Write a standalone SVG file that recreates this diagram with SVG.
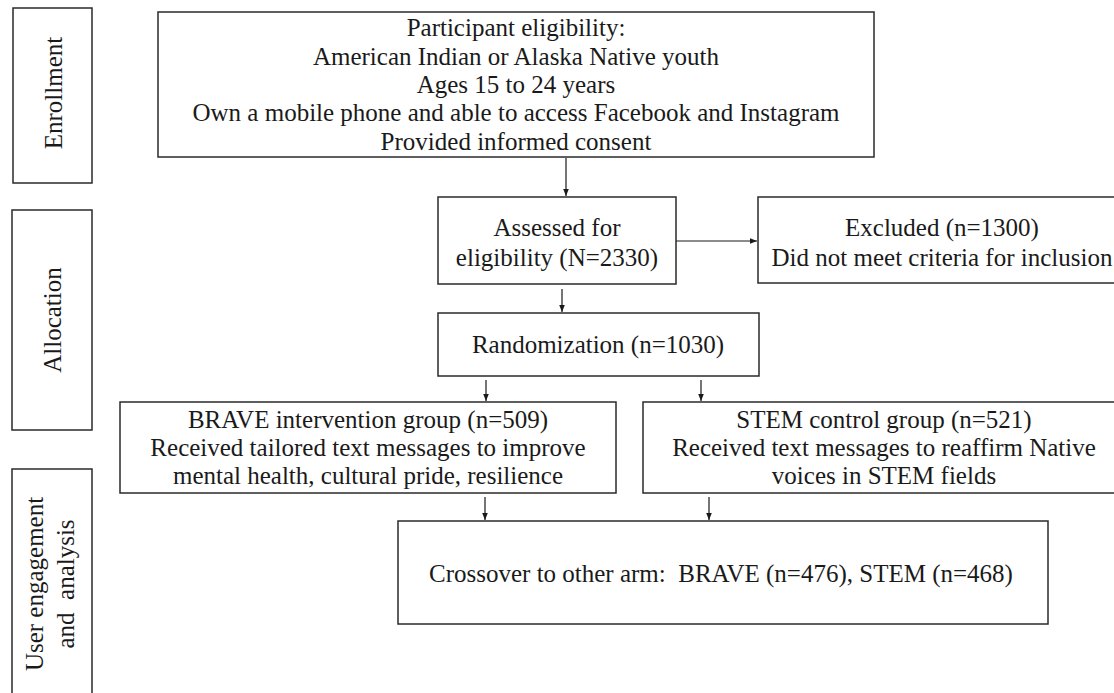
<svg xmlns="http://www.w3.org/2000/svg" width="1114" height="693" viewBox="0 0 1114 693">
<defs>
<style>
.box{fill:#fff;stroke:#2a2a2a;stroke-width:1.5}
.t{font-family:"Liberation Serif","Times New Roman",serif;font-size:25px;fill:#1a1a1a;text-anchor:middle}
.c{stroke:#1a1a1a;stroke-width:1.2;fill:none;marker-end:url(#ah)}
</style>
<marker id="ah" viewBox="0 0 8 8" refX="7.5" refY="4" markerWidth="8" markerHeight="8" markerUnits="userSpaceOnUse" orient="auto">
<path d="M0,1 L7.5,4 L0,7 z" fill="#1a1a1a"/>
</marker>
</defs>
<rect width="1114" height="693" fill="#fff"/>
<g id="stage-enrollment">
<rect class="box" x="13" y="8" width="79" height="175"/>
<text class="t" transform="translate(62,93) rotate(-90)">Enrollment</text>
</g>
<g id="stage-allocation">
<rect class="box" x="12" y="210" width="80" height="220"/>
<text class="t" transform="translate(61,320) rotate(-90)">Allocation</text>
</g>
<g id="stage-engagement">
<path class="box" d="M12,700 V469 H92 V700"/>
<text class="t" transform="translate(43,584) rotate(-90)">User engagement</text>
<text class="t" transform="translate(74,584) rotate(-90)" xml:space="preserve">and  analysis</text>
</g>
<g id="eligibility">
<rect class="box" x="158" y="12" width="716" height="145"/>
<text class="t" x="516" y="36">Participant eligibility:</text>
<text class="t" x="516" y="65">American Indian or Alaska Native youth</text>
<text class="t" x="516" y="93">Ages 15 to 24 years</text>
<text class="t" x="516" y="121">Own a mobile phone and able to access Facebook and Instagram</text>
<text class="t" x="516" y="150">Provided informed consent</text>
</g>
<g id="assessed">
<rect class="box" x="438" y="197" width="238" height="87"/>
<text class="t" x="557" y="236">Assessed for</text>
<text class="t" x="557" y="266">eligibility (N=2330)</text>
</g>
<g id="excluded">
<rect class="box" x="758" y="197" width="400" height="86"/>
<text class="t" x="942" y="236">Excluded (n=1300)</text>
<text class="t" x="942" y="266">Did not meet criteria for inclusion</text>
</g>
<g id="randomization">
<rect class="box" x="438" y="313" width="321" height="63"/>
<text class="t" x="598" y="353">Randomization (n=1030)</text>
</g>
<g id="brave">
<rect class="box" x="120" y="402" width="496" height="91"/>
<text class="t" x="368" y="428">BRAVE intervention group (n=509)</text>
<text class="t" x="368" y="456">Received tailored text messages to improve</text>
<text class="t" x="368" y="484">mental health, cultural pride, resilience</text>
</g>
<g id="stem">
<rect class="box" x="643" y="402" width="482" height="91"/>
<text class="t" x="884" y="428">STEM control group (n=521)</text>
<text class="t" x="884" y="456">Received text messages to reaffirm Native</text>
<text class="t" x="884" y="484">voices in STEM fields</text>
</g>
<g id="crossover">
<rect class="box" x="398" y="521" width="650" height="103"/>
<text class="t" x="429" y="582" style="text-anchor:start" xml:space="preserve">Crossover to other arm:  BRAVE (n=476), STEM (n=468)</text>
</g>
<g id="connectors">
<line class="c" x1="566" y1="158" x2="566" y2="196"/>
<line class="c" x1="676" y1="241" x2="757" y2="241"/>
<line class="c" x1="562" y1="289" x2="562" y2="312"/>
<line class="c" x1="486" y1="380" x2="486" y2="401"/>
<line class="c" x1="701" y1="380" x2="701" y2="401"/>
<line class="c" x1="485" y1="497" x2="485" y2="520"/>
<line class="c" x1="709" y1="497" x2="709" y2="520"/>
</g>
</svg>
